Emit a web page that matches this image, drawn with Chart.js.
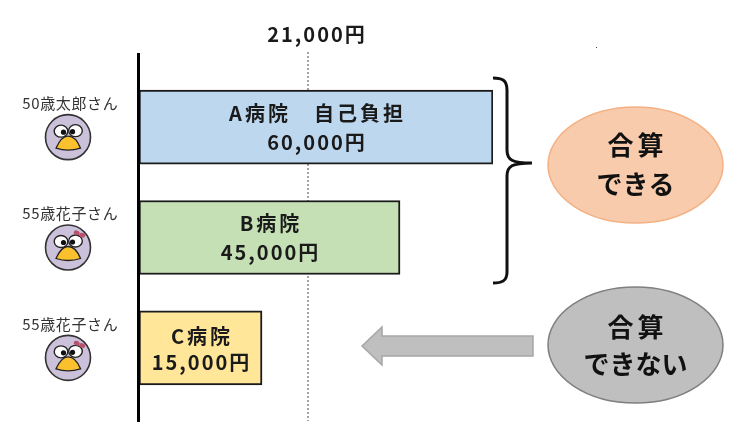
<!DOCTYPE html>
<html lang="ja"><head><meta charset="utf-8">
<style>html,body{margin:0;padding:0;background:#fff}canvas{display:block}#w{width:740px;height:439px;position:relative}</style>
<script src="https://cdn.jsdelivr.net/npm/chart.js@4"></script>
</head><body><div id="w"><canvas id="c"></canvas></div>
<script>
// Data
const hospitals = ['A病院', 'B病院', 'C病院'];
const amounts = [60000, 45000, 15000];
const barLabels = [['A病院　自己負担', '60,000円'], ['B病院', '45,000円'], ['C病院', '15,000円']];
const patients = ['50歳太郎さん', '55歳花子さん', '55歳花子さん'];
const thresholdValue = 21000;
const thresholdLabel = '21,000円';
const fills = ['#bdd7ee', '#c5e0b4', '#ffe699'];
// The source is a schematic, not drawn to scale: amount -> place on the drawn axis (0-60000)
const scaleAmounts = [0, 15000, 21000, 45000, 60000];
const scalePlaces = [0, 20850, 28640, 44240, 60000];

class SchematicScale extends Chart.LinearScale {
  getPixelForValue(v) {
    let i = 1;
    while (i < scaleAmounts.length - 1 && v > scaleAmounts[i]) i++;
    const a0 = scaleAmounts[i-1], a1 = scaleAmounts[i], p0 = scalePlaces[i-1], p1 = scalePlaces[i];
    return super.getPixelForValue(p0 + (v - a0) * (p1 - p0) / (a1 - a0));
  }
}
SchematicScale.id = 'schematic';
SchematicScale.defaults = Chart.LinearScale.defaults;
Chart.register(SchematicScale);

const JP = '"Noto Sans CJK JP","Noto Sans",sans-serif';
function spaced(ctx, text, x, y, sp) {
  ctx.letterSpacing = sp + 'px';
  ctx.fillText(text, x + sp / 2, y);
  ctx.letterSpacing = '0px';
}
function bird(ctx, cx, cy, bow) {
  ctx.save();
  ctx.beginPath(); ctx.arc(cx, cy, 22.5, 0, Math.PI * 2);
  ctx.fillStyle = '#ccc1da'; ctx.fill();
  ctx.lineWidth = 1.6; ctx.strokeStyle = '#333'; ctx.stroke();
  ctx.lineWidth = 1.4; ctx.strokeStyle = '#222';
  [[-7, -6], [7.5, -6.5]].forEach(([dx, dy]) => {
    ctx.beginPath(); ctx.ellipse(cx + dx, cy + dy, 6.8, 6, 0, 0, Math.PI * 2);
    ctx.fillStyle = '#fff'; ctx.fill(); ctx.stroke();
  });
  ctx.fillStyle = '#111';
  [[-4.5, -5], [4.5, -5.5]].forEach(([dx, dy]) => {
    ctx.beginPath(); ctx.arc(cx + dx, cy + dy, 2.6, 0, Math.PI * 2); ctx.fill();
  });
  ctx.beginPath();
  ctx.moveTo(cx - 12, cy + 11);
  ctx.bezierCurveTo(cx - 8, cy + 2, cx - 4, cy - 1, cx, cy - 1);
  ctx.bezierCurveTo(cx + 5, cy - 1, cx + 9, cy + 2, cx + 12.5, cy + 11);
  ctx.quadraticCurveTo(cx, cy + 15, cx - 12, cy + 11);
  ctx.closePath();
  ctx.fillStyle = '#fbc02d'; ctx.fill();
  ctx.strokeStyle = '#222'; ctx.lineWidth = 1.3; ctx.stroke();
  if (bow) {
    ctx.fillStyle = '#b9506c';
    ctx.save(); ctx.translate(cx + 11.5, cy - 13.5); ctx.rotate(0.4);
    ctx.beginPath(); ctx.ellipse(-3, 0, 3, 2.3, 0, 0, Math.PI * 2); ctx.fill();
    ctx.beginPath(); ctx.ellipse(3, 0, 3, 2.3, 0, 0, Math.PI * 2); ctx.fill();
    ctx.restore();
  }
  ctx.restore();
}
function bubble(ctx, cx, cy, rx, ry, fill, edge, lines) {
  ctx.beginPath(); ctx.ellipse(cx, cy, rx, ry, 0, 0, Math.PI * 2);
  ctx.fillStyle = fill; ctx.fill();
  ctx.strokeStyle = edge; ctx.lineWidth = 1.5; ctx.stroke();
  ctx.fillStyle = '#111'; ctx.font = 'bold 26px ' + JP;
  ctx.textAlign = 'center'; ctx.textBaseline = 'middle';
  lines.forEach(([t, y, sp]) => spaced(ctx, t, cx, y, sp));
}

const decorations = {
  id: 'decorations',
  beforeDatasetsDraw(chart) {
    const { ctx, scales: { x } } = chart;
    const tx = x.getPixelForValue(thresholdValue);
    ctx.save();
    ctx.strokeStyle = '#666'; ctx.lineWidth = 1.2; ctx.setLineDash([2, 2]);
    ctx.beginPath(); ctx.moveTo(tx, 52); ctx.lineTo(tx, 421); ctx.stroke();
    ctx.restore();
  },
  afterDatasetsDraw(chart) {
    const { ctx, scales: { x, y } } = chart;
    const x0 = x.getPixelForValue(0);
    const tx = x.getPixelForValue(thresholdValue);
    ctx.save();
    ctx.textAlign = 'center'; ctx.textBaseline = 'middle';
    ctx.fillStyle = '#1a1a1a'; ctx.font = 'bold 20px ' + JP;
    spaced(ctx, thresholdLabel, tx + 8, 34, 2);
    amounts.forEach((v, i) => {
      const cy = y.getPixelForValue(i);
      const cx = (x0 + x.getPixelForValue(v)) / 2;
      ctx.fillStyle = '#1a1a1a'; ctx.font = 'bold 20px ' + JP;
      spaced(ctx, barLabels[i][0], cx, cy - (i === 2 ? 11 : 14), 3);
      spaced(ctx, barLabels[i][1], cx, cy + 15, 2);
      ctx.fillStyle = '#333'; ctx.font = '15px ' + JP;
      spaced(ctx, patients[i], 70, cy - 24, 0.6);
      bird(ctx, 68, cy + 10, i > 0);
    });
    // axis
    ctx.strokeStyle = '#000'; ctx.lineWidth = 3;
    ctx.beginPath(); ctx.moveTo(x0 - .5, 53); ctx.lineTo(x0 - .5, 422); ctx.stroke();
    // brace
    ctx.lineWidth = 3; ctx.strokeStyle = '#111';
    ctx.beginPath();
    ctx.moveTo(493, 78);
    ctx.bezierCurveTo(502, 78, 507, 80, 507, 90);
    ctx.lineTo(507, 150);
    ctx.bezierCurveTo(507, 160, 512, 163, 532, 163);
    ctx.bezierCurveTo(512, 163, 507, 166, 507, 176);
    ctx.lineTo(507, 272);
    ctx.bezierCurveTo(507, 281, 502, 283, 493, 283);
    ctx.stroke();
    // bubbles
    bubble(ctx, 635.5, 165, 87.5, 58, '#f8cbad', '#f4b183', [['合算', 145, 4], ['できる', 184, 0]]);
    bubble(ctx, 635.5, 345, 87.5, 58, '#bfbfbf', '#7f7f7f', [['合算', 327, 4], ['できない', 364, 0]]);
    // arrow
    ctx.beginPath();
    ctx.moveTo(533, 336); ctx.lineTo(382, 336); ctx.lineTo(382, 327); ctx.lineTo(362, 346);
    ctx.lineTo(382, 365); ctx.lineTo(382, 356); ctx.lineTo(533, 356); ctx.closePath();
    ctx.fillStyle = '#bfbfbf'; ctx.fill();
    ctx.strokeStyle = '#a6a6a6'; ctx.lineWidth = 1.5; ctx.stroke();
    ctx.fillStyle = '#444'; ctx.fillRect(596, 47, 1, 1);
    ctx.restore();
  }
};

new Chart(document.getElementById('c'), {
  type: 'bar',
  data: { labels: hospitals, datasets: [{
    data: amounts, backgroundColor: fills, borderColor: '#1a1a1a', borderWidth: 2,
    barThickness: 74, borderSkipped: false
  }]},
  options: {
    indexAxis: 'y', responsive: true, maintainAspectRatio: false, animation: false,
    layout: { padding: { left: 139, right: 247, top: 72, bottom: 36 } },
    plugins: { legend: { display: false }, tooltip: { enabled: false } },
    scales: {
      x: { type: 'schematic', display: false, min: 0, max: 60000 },
      y: { display: false }
    }
  },
  plugins: [decorations]
});
</script></body></html>
